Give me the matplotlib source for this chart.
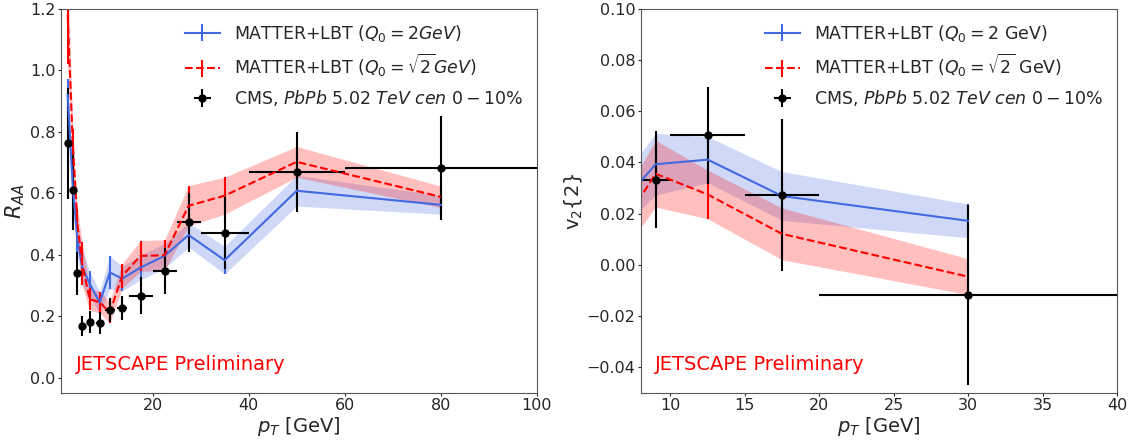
import numpy as np
import matplotlib
matplotlib.use('Agg')
import matplotlib.pyplot as plt

# ---- R_AA panel data ----
raa_pt = [2.34, 3.4, 4.37, 5.35, 6.9, 9.0, 11.1, 13.7, 17.5, 22.5, 27.5, 35.0, 50.0, 80.0]
raa_cms = [0.762, 0.61, 0.339, 0.168, 0.181, 0.177, 0.22, 0.226, 0.266, 0.346, 0.505, 0.47, 0.668, 0.682]
raa_cms_err = [0.18, 0.13, 0.07, 0.033, 0.036, 0.035, 0.04, 0.04, 0.06, 0.075, 0.095, 0.117, 0.13, 0.168]
raa_cms_xerr = [0.3, 0.4, 0.4, 0.4, 0.6, 0.8, 1.0, 1.0, 2.5, 2.5, 2.5, 5.0, 10.0, 20.0]

raa_blue = [0.92, 0.62, 0.45, 0.36, 0.306, 0.244, 0.342, 0.322, 0.358, 0.396, 0.464, 0.382, 0.608, 0.562]
raa_blue_err = [0.05, 0.05, 0.05, 0.06, 0.04, 0.035, 0.054, 0.04, 0.04, 0.04, 0.04, 0.045, 0.05, 0.03]
raa_red = [1.18, 0.76, 0.50, 0.37, 0.255, 0.245, 0.212, 0.331, 0.396, 0.398, 0.559, 0.592, 0.702, 0.588]
raa_red_err = [0.16, 0.05, 0.05, 0.07, 0.035, 0.035, 0.035, 0.04, 0.05, 0.05, 0.066, 0.06, 0.05, 0.035]

# ---- v2 panel data ----
v2_cms_pt = [9.0, 12.5, 17.5, 30.0]
v2_cms = [0.0333, 0.0506, 0.0274, -0.0118]
v2_cms_err = [0.019, 0.019, 0.0296, 0.035]
v2_cms_xerr = [1.0, 2.5, 2.5, 10.0]

v2_pt = [7.0, 9.0, 12.5, 17.5, 30.0]
v2_blue = [0.026, 0.0393, 0.0411, 0.0269, 0.0172]
v2_blue_err = [0.010, 0.012, 0.009, 0.0095, 0.0066]
v2_red = [0.0175, 0.0356, 0.0275, 0.0121, -0.0046]
v2_red_err = [0.011, 0.013, 0.0095, 0.0101, 0.007]

BLUE = 'royalblue'
RED = 'red'
TXT = '#262626'

plt.rcParams['font.family'] = 'DejaVu Sans'
plt.rcParams['text.color'] = TXT
plt.rcParams['axes.labelcolor'] = TXT
plt.rcParams['xtick.color'] = TXT
plt.rcParams['ytick.color'] = TXT
plt.rcParams['axes.edgecolor'] = '#555555'
plt.rcParams['mathtext.fontset'] = 'dejavusans'

fig = plt.figure(figsize=(11.34, 4.41), dpi=100)
ax1 = fig.add_axes([0.054, 0.109, 0.4195, 0.871])
ax2 = fig.add_axes([0.565, 0.109, 0.420, 0.871])


def draw(ax, pt, blue, blue_err, red, red_err, cpt, cms, cms_err, cms_xerr, lab_blue, lab_red):
    pt = np.array(pt)
    blue, blue_err = np.array(blue), np.array(blue_err)
    red, red_err = np.array(red), np.array(red_err)
    ax.fill_between(pt, blue - blue_err, blue + blue_err, color=BLUE, alpha=0.25, lw=0)
    ax.fill_between(pt, red - red_err, red + red_err, color=RED, alpha=0.25, lw=0)
    ax.errorbar(pt, blue, yerr=blue_err, color=BLUE, lw=1.5, label=lab_blue)
    ax.errorbar(pt, red, yerr=red_err, color=RED, ls='--', lw=1.5, label=lab_red)
    ax.errorbar(cpt, cms, yerr=cms_err, xerr=cms_xerr, fmt='o', color='black', ms=5,
                lw=1.5, label=r'CMS, $PbPb$ 5.02 $TeV$ $cen$ $0-10\%$')
    ax.legend(loc='upper right', frameon=False, fontsize=12.5, handlelength=2.0,
              handletextpad=0.8, borderaxespad=0.4)
    ax.text(0.03, 0.06, 'JETSCAPE Preliminary', color='red', fontsize=14, transform=ax.transAxes)
    ax.set_xlabel(r'$p_T$ [GeV]', fontsize=14, labelpad=1)
    ax.tick_params(labelsize=11.5, direction='out', length=2, pad=2)


draw(ax1, raa_pt, raa_blue, raa_blue_err, raa_red, raa_red_err,
     raa_pt, raa_cms, raa_cms_err, raa_cms_xerr,
     r'MATTER+LBT ($Q_0=2GeV$)', r'MATTER+LBT ($Q_0=\sqrt{2}GeV$)')
ax1.set_xlim(1, 100)
ax1.set_ylim(-0.05, 1.2)
ax1.set_xticks([20, 40, 60, 80, 100])
ax1.set_yticks(np.arange(0, 1.21, 0.2))
ax1.set_ylabel(r'$R_{AA}$', fontsize=15, labelpad=2)

draw(ax2, v2_pt, v2_blue, v2_blue_err, v2_red, v2_red_err,
     v2_cms_pt, v2_cms, v2_cms_err, v2_cms_xerr,
     r'MATTER+LBT ($Q_0=2$ GeV)', r'MATTER+LBT ($Q_0=\sqrt{2}$ GeV)')
ax2.set_xlim(8, 40)
ax2.set_ylim(-0.05, 0.10)
ax2.set_xticks([10, 15, 20, 25, 30, 35, 40])
ax2.set_yticks(np.arange(-0.04, 0.101, 0.02))
ax2.set_ylabel(r'v$_2${2}', fontsize=14, labelpad=2)

fig.savefig('out.png', dpi=100)
